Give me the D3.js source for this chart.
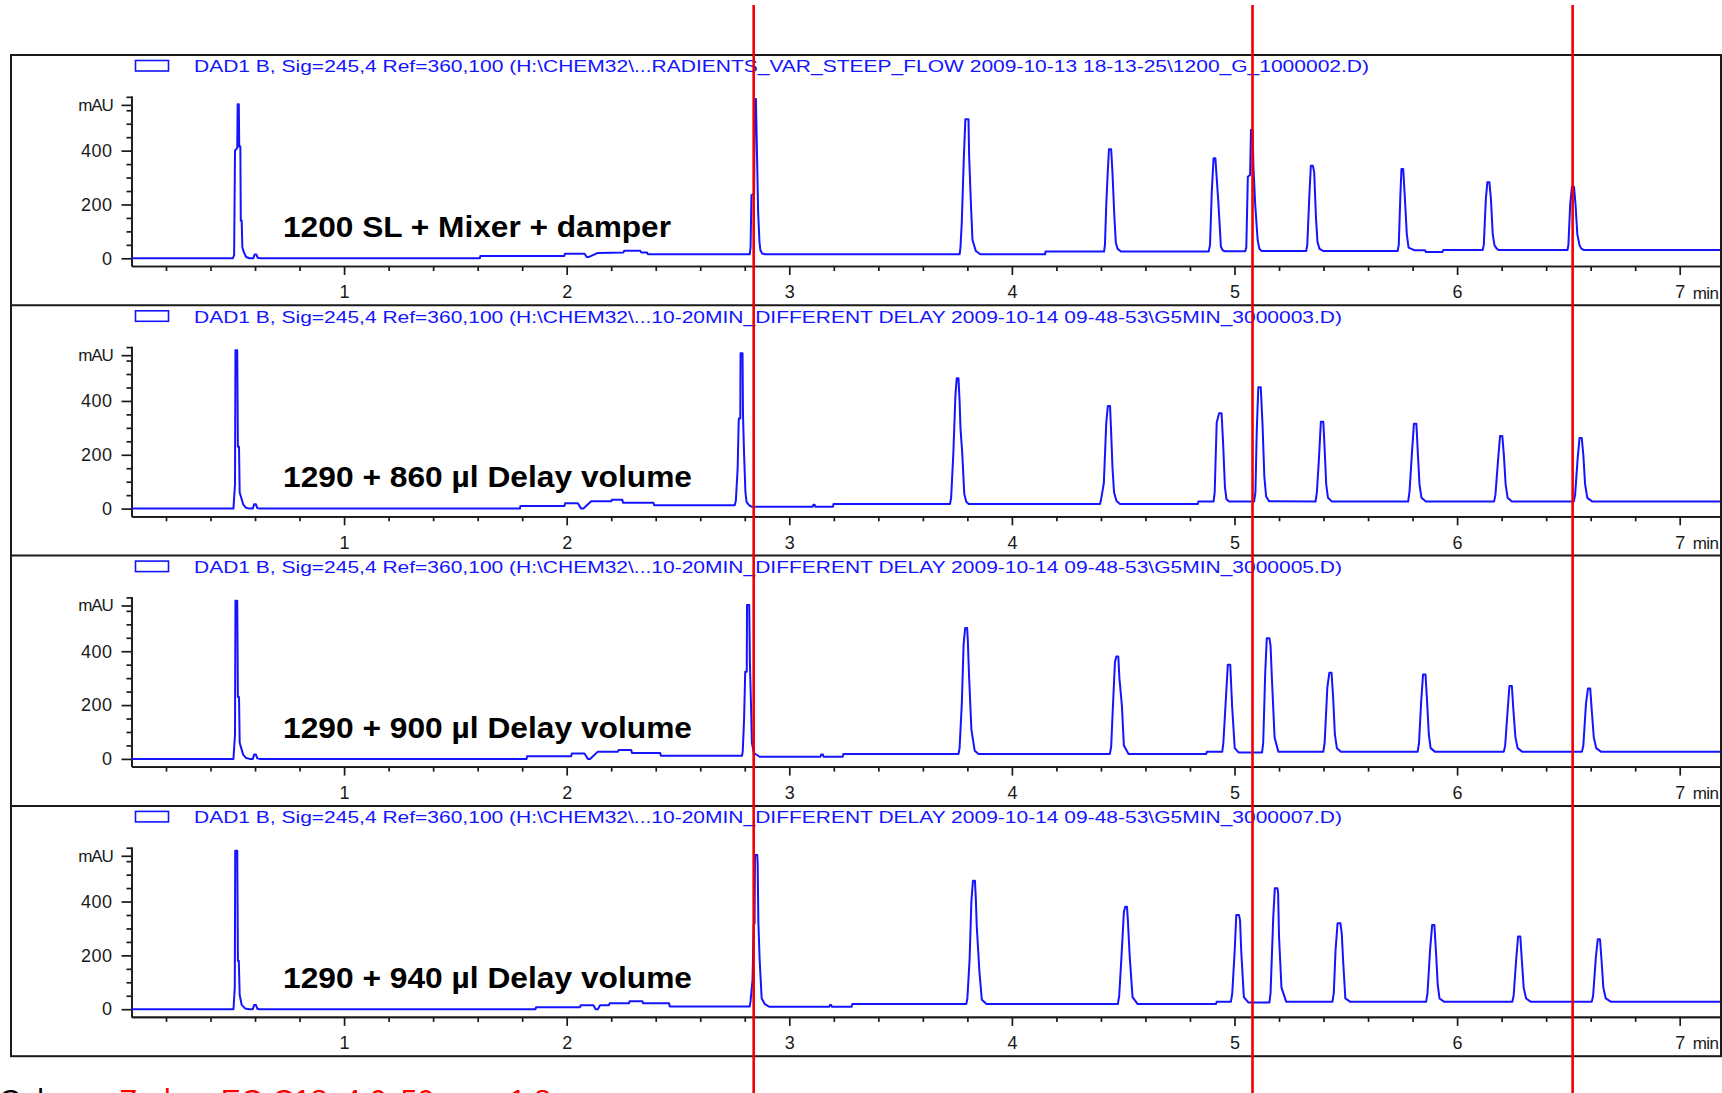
<!DOCTYPE html>
<html><head><meta charset="utf-8">
<script src="https://cdn.jsdelivr.net/npm/d3@7"></script>
<style>html,body{margin:0;padding:0;background:#fff;overflow:hidden}</style>
</head><body>
<svg id="c" width="1722" height="1093" xmlns="http://www.w3.org/2000/svg"></svg>
<script>
// ---------- data ----------
const legendLabels = [
  "DAD1 B, Sig=245,4 Ref=360,100 (H:\\CHEM32\\...RADIENTS_VAR_STEEP_FLOW 2009-10-13 18-13-25\\1200_G_1000002.D)",
  "DAD1 B, Sig=245,4 Ref=360,100 (H:\\CHEM32\\...10-20MIN_DIFFERENT DELAY 2009-10-14 09-48-53\\G5MIN_3000003.D)",
  "DAD1 B, Sig=245,4 Ref=360,100 (H:\\CHEM32\\...10-20MIN_DIFFERENT DELAY 2009-10-14 09-48-53\\G5MIN_3000005.D)",
  "DAD1 B, Sig=245,4 Ref=360,100 (H:\\CHEM32\\...10-20MIN_DIFFERENT DELAY 2009-10-14 09-48-53\\G5MIN_3000007.D)"
];
const panelTitles = [
  "1200 SL + Mixer + damper",
  "1290 + 860 µl Delay volume",
  "1290 + 900 µl Delay volume",
  "1290 + 940 µl Delay volume"
];
const xMajorTicks = [1, 2, 3, 4, 5, 6, 7];
const xMinorTicks = [0.2,0.4,0.6,0.8,1.2,1.4,1.6,1.8,2.2,2.4,2.6,2.8,3.2,3.4,3.6,3.8,
                     4.2,4.4,4.6,4.8,5.2,5.4,5.6,5.8,6.2,6.4,6.6,6.8];
const xUnitLabel = "min";
const yMajorTicks = [0, 200, 400];
const yMinorTicks = [50, 100, 150, 250, 300, 350, 450, 500, 550, 600];
const yUnitTick = 570;
const yUnitLabel = "mAU";
const xDomain = [0.045, 7.19];
const yDomain = [-28.6, 603];
const markerTimes = [2.84, 5.081, 6.519];
const footerLabel = "Column: ";
const footerColumn = "Zorbax EC-C18, 4.6x50 mm, 1.8 µm";

// trace points: [time (min), signal (mAU)]
const trace1 = [
 [0.045,0],[0.500,0],[0.506,12],[0.510,400],[0.520,410],[0.522,572],[0.527,572],[0.529,415],[0.534,415],[0.536,140],[0.540,140],[0.543,40],[0.550,22],[0.560,5],[0.575,0],[0.592,0],[0.598,14],[0.606,14],[0.612,2],[0.620,0],
 [1.610,0],[1.612,9],[1.990,9],[1.992,17],[2.080,17],[2.090,5],[2.100,5],[2.140,20],[2.255,22],[2.258,28],[2.330,28],[2.335,22],[2.360,22],[2.365,15],
 [2.822,15],[2.826,40],[2.830,235],[2.842,240],[2.845,592],[2.850,592],[2.853,470],[2.857,300],[2.860,173],[2.866,60],[2.870,31],[2.878,18],[2.890,15],
 [3.765,15],[3.769,40],[3.775,136],[3.784,372],[3.791,517],[3.805,517],[3.808,378],[3.816,200],[3.823,68],[3.838,27],[3.858,15],
 [4.149,15],[4.151,25],
 [4.414,25],[4.418,50],[4.424,200],[4.430,310],[4.436,405],[4.446,405],[4.452,316],[4.460,160],[4.467,57],[4.475,35],[4.490,25],
 [4.884,25],[4.890,50],[4.898,250],[4.906,372],[4.914,372],[4.920,300],[4.928,200],[4.939,43],[4.947,30],[4.957,26],
 [5.048,26],[5.053,40],[5.060,303],[5.070,310],[5.074,478],[5.081,478],[5.085,340],[5.093,200],[5.104,68],[5.112,35],[5.122,27],
 [5.322,27],[5.327,50],[5.336,229],[5.343,344],[5.352,344],[5.358,320],[5.366,150],[5.373,60],[5.382,35],[5.400,27],
 [5.733,27],[5.738,50],[5.745,230],[5.750,332],[5.758,332],[5.765,230],[5.774,90],[5.782,40],[5.800,33],[5.808,30],
 [5.856,30],[5.860,23],[5.934,23],[5.938,31],
 [6.115,31],[6.120,50],[6.129,220],[6.136,283],[6.145,283],[6.152,220],[6.160,90],[6.168,48],[6.178,36],[6.186,31],
 [6.496,31],[6.500,50],[6.508,200],[6.516,266],[6.525,266],[6.532,200],[6.540,90],[6.550,48],[6.558,36],[6.568,31],
 [7.190,31]
];
const trace2 = [
 [0.045,0],[0.503,0],[0.506,40],[0.510,90],[0.512,588],[0.520,588],[0.523,230],[0.528,230],[0.531,60],[0.538,40],[0.547,15],[0.560,3],[0.575,0],[0.590,0],[0.596,16],[0.604,16],[0.610,2],[0.620,0],
 [1.790,0],[1.792,10],[1.990,10],[1.993,20],[2.050,20],[2.065,0],[2.075,0],[2.110,27],[2.200,27],[2.203,33],[2.250,33],[2.253,22],[2.390,22],[2.393,12],
 [2.755,12],[2.760,30],[2.768,150],[2.773,335],[2.780,335],[2.781,577],[2.790,577],[2.792,350],[2.797,200],[2.803,60],[2.808,25],[2.820,12],[2.830,7],
 [3.105,7],[3.108,14],[3.114,14],[3.117,7],
 [3.196,7],[3.199,17],
 [3.722,17],[3.727,40],[3.737,205],[3.746,416],[3.752,484],[3.760,484],[3.765,400],[3.769,300],[3.777,205],[3.786,55],[3.795,25],[3.806,17],
 [4.396,17],[4.402,40],[4.413,95],[4.424,320],[4.431,381],[4.441,381],[4.446,280],[4.452,150],[4.459,60],[4.470,28],[4.486,17],
 [4.835,17],[4.838,26],
 [4.906,26],[4.911,60],[4.920,320],[4.931,354],[4.942,354],[4.949,240],[4.957,80],[4.964,35],[4.976,26],
 [5.088,26],[5.094,60],[5.100,290],[5.107,451],[5.118,451],[5.126,310],[5.134,120],[5.142,45],[5.156,27],
 [5.364,26],[5.370,60],[5.379,180],[5.388,323],[5.399,323],[5.405,220],[5.412,90],[5.420,40],[5.438,26],
 [5.780,26],[5.786,60],[5.797,205],[5.806,315],[5.817,315],[5.824,200],[5.831,90],[5.840,40],[5.860,26],
 [6.166,26],[6.172,50],[6.184,180],[6.193,270],[6.203,270],[6.210,200],[6.218,90],[6.227,40],[6.246,26],
 [6.524,26],[6.530,50],[6.541,180],[6.550,262],[6.560,262],[6.567,200],[6.575,90],[6.585,40],[6.608,26],
 [7.190,26]
];
const trace3 = [
 [0.045,0],[0.503,0],[0.506,40],[0.510,90],[0.512,588],[0.520,588],[0.523,230],[0.528,230],[0.531,60],[0.538,40],[0.547,15],[0.560,3],[0.575,0],[0.590,0],[0.596,16],[0.604,16],[0.610,2],[0.620,0],
 [1.820,0],[1.822,10],[2.020,10],[2.023,20],[2.080,20],[2.095,0],[2.105,0],[2.140,27],[2.230,27],[2.233,33],[2.290,33],[2.293,22],[2.420,22],[2.423,12],
 [2.788,12],[2.791,30],[2.797,150],[2.802,324],[2.809,324],[2.810,572],[2.820,572],[2.823,360],[2.828,200],[2.832,60],[2.841,22],[2.867,8],
 [3.140,8],[3.143,16],[3.151,16],[3.154,8],
 [3.240,8],[3.243,18],
 [3.760,18],[3.765,40],[3.775,205],[3.783,425],[3.790,486],[3.799,486],[3.802,440],[3.807,320],[3.818,110],[3.833,30],[3.850,18],
 [4.440,18],[4.446,45],[4.453,180],[4.463,360],[4.469,380],[4.478,380],[4.483,300],[4.494,200],[4.503,50],[4.524,18],
 [4.873,18],[4.876,27],
 [4.945,27],[4.950,60],[4.960,205],[4.970,350],[4.981,350],[4.989,200],[5.001,40],[5.018,24],
 [5.124,24],[5.129,60],[5.138,320],[5.145,448],[5.157,448],[5.162,420],[5.168,300],[5.180,80],[5.197,27],
 [5.399,27],[5.405,60],[5.417,265],[5.426,320],[5.436,320],[5.443,230],[5.451,90],[5.460,40],[5.478,27],
 [5.823,27],[5.829,60],[5.838,205],[5.847,314],[5.858,314],[5.866,200],[5.873,90],[5.881,40],[5.900,27],
 [6.210,27],[6.216,50],[6.227,180],[6.235,271],[6.246,271],[6.253,180],[6.262,80],[6.272,40],[6.292,27],
 [6.561,27],[6.567,50],[6.579,205],[6.588,262],[6.598,262],[6.605,180],[6.614,80],[6.625,40],[6.646,27],
 [7.190,27]
];
const trace4 = [
 [0.045,0],[0.503,0],[0.506,40],[0.509,80],[0.511,589],[0.520,589],[0.523,180],[0.527,180],[0.531,53],[0.540,16],[0.555,3],[0.575,0],[0.590,0],[0.596,16],[0.604,16],[0.610,2],[0.620,0],
 [1.860,0],[1.862,7],[2.060,7],[2.063,15],[2.120,15],[2.130,0],[2.140,0],[2.150,15],[2.190,15],[2.193,22],[2.280,22],[2.283,30],[2.340,30],[2.343,22],[2.460,22],[2.463,10],
 [2.822,10],[2.826,30],[2.835,110],[2.840,310],[2.844,320],[2.846,573],[2.856,573],[2.858,540],[2.861,325],[2.867,180],[2.876,40],[2.890,19],[2.911,9],
 [3.180,9],[3.183,16],[3.188,16],[3.191,9],
 [3.280,9],[3.283,19],
 [3.795,19],[3.800,40],[3.810,185],[3.818,400],[3.825,477],[3.834,477],[3.838,410],[3.842,310],[3.854,140],[3.865,35],[3.886,19],
 [4.476,19],[4.482,50],[4.492,190],[4.503,360],[4.509,381],[4.517,381],[4.521,330],[4.529,200],[4.542,45],[4.565,19],
 [4.917,19],[4.920,28],
 [4.984,28],[4.990,60],[5.001,220],[5.008,350],[5.020,350],[5.025,330],[5.030,220],[5.042,45],[5.062,25],
 [5.157,25],[5.162,60],[5.174,340],[5.181,449],[5.193,449],[5.196,430],[5.200,270],[5.211,80],[5.232,28],
 [5.440,28],[5.446,60],[5.454,220],[5.463,319],[5.476,319],[5.482,280],[5.488,180],[5.498,40],[5.519,28],
 [5.861,28],[5.867,60],[5.879,225],[5.888,313],[5.898,313],[5.906,200],[5.913,90],[5.921,40],[5.941,28],
 [6.248,28],[6.254,50],[6.265,180],[6.274,270],[6.284,270],[6.291,180],[6.299,80],[6.310,40],[6.330,28],
 [6.605,28],[6.611,50],[6.623,190],[6.632,260],[6.642,260],[6.649,180],[6.657,80],[6.668,40],[6.690,28],
 [7.190,28]
];
const traces = [trace1, trace2, trace3, trace4];

// ---------- layout ----------
const svg = d3.select("#c");
const frame = {left: 11, right: 1721, top: 55, panelH: 250.3};
const plotLeft = 131.5, plotRight = 1722;
const x = d3.scaleLinear().domain(xDomain).range([plotLeft, plotRight]);
const axisFont = "'Liberation Sans', Arial, sans-serif";
const blue = "#1414ff";
const ink = "#1a1a1a";

svg.append("defs").append("clipPath").attr("id", "plotclip")
  .append("rect").attr("x", plotLeft).attr("y", 0).attr("width", frame.right - plotLeft).attr("height", 1093);

traces.forEach((tr, i) => {
  const T = frame.top + i * frame.panelH;
  const y = d3.scaleLinear().domain(yDomain).range([T + 211, T + 41]);
  const g = svg.append("g");

  // legend
  g.append("rect").attr("x", 135.5).attr("y", T + 5.5).attr("width", 33).attr("height", 10.5)
    .attr("fill", "none").attr("stroke", blue).attr("stroke-width", 1.6);
  g.append("text").attr("x", 194).attr("y", T + 17.3)
    .attr("font-family", axisFont).attr("font-size", 17).attr("fill", blue)
    .attr("textLength", i === 0 ? 1175 : 1148).attr("lengthAdjust", "spacingAndGlyphs")
    .text(legendLabels[i]);

  // x axis minor / major
  const xa = y(yDomain[0]);
  const gxMinor = g.append("g").attr("transform", `translate(0,${xa})`)
    .call(d3.axisBottom(x).tickValues(xMinorTicks).tickSize(5).tickSizeOuter(0).tickFormat(""));
  const gxMajor = g.append("g").attr("transform", `translate(0,${xa})`)
    .call(d3.axisBottom(x).tickValues(xMajorTicks).tickSize(9).tickSizeOuter(0).tickPadding(10.5));
  [gxMinor, gxMajor].forEach(ax => {
    ax.select(".domain").attr("stroke", ink).attr("stroke-width", 1.7);
    ax.selectAll(".tick line").attr("stroke", ink).attr("stroke-width", 1.7);
    ax.selectAll("text").attr("font-family", axisFont).attr("font-size", 18).attr("fill", ink);
  });
  g.append("text").attr("x", x(xMajorTicks[xMajorTicks.length - 1]) + 13).attr("y", xa + 32.5)
    .attr("font-family", axisFont).attr("font-size", 17).attr("letter-spacing", -0.6)
    .attr("fill", ink).text(xUnitLabel);

  // y axis
  const gyMinor = g.append("g").attr("transform", `translate(${plotLeft},0)`)
    .call(d3.axisLeft(y).tickValues(yMinorTicks).tickSize(5).tickSizeOuter(0).tickFormat(""));
  const gyMajor = g.append("g").attr("transform", `translate(${plotLeft},0)`)
    .call(d3.axisLeft(y).tickValues(yMajorTicks.concat([yUnitTick])).tickSize(10).tickSizeOuter(0)
      .tickPadding(9).tickFormat(d => d === yUnitTick ? yUnitLabel : d));
  [gyMinor, gyMajor].forEach(ax => {
    ax.select(".domain").attr("stroke", ink).attr("stroke-width", 1.7);
    ax.selectAll(".tick line").attr("stroke", ink).attr("stroke-width", 1.7);
    ax.selectAll("text").attr("font-family", axisFont).attr("font-size", 18).attr("fill", ink)
      .attr("letter-spacing", 0.5);
  });
  gyMajor.selectAll("text").filter(d => d === yUnitTick)
    .attr("letter-spacing", -1.2).attr("font-size", 17);

  // trace
  g.append("path").datum(tr)
    .attr("clip-path", "url(#plotclip)")
    .attr("fill", "none").attr("stroke", blue).attr("stroke-width", 2)
    .attr("stroke-linejoin", "round")
    .attr("d", d3.line().x(d => x(d[0])).y(d => y(d[1])));

  // title
  g.append("text").attr("x", 283).attr("y", T + 182)
    .attr("font-family", axisFont).attr("font-weight", "bold").attr("font-size", 30).attr("fill", "#000")
    .attr("textLength", i === 0 ? 388 : 409).attr("lengthAdjust", "spacingAndGlyphs")
    .text(panelTitles[i]);

  // separator
  if (i > 0) {
    svg.append("line").attr("x1", frame.left).attr("x2", frame.right).attr("y1", T).attr("y2", T)
      .attr("stroke", ink).attr("stroke-width", 2);
  }
});

// frame
svg.append("rect").attr("x", frame.left).attr("y", frame.top)
  .attr("width", frame.right - frame.left).attr("height", frame.panelH * traces.length)
  .attr("fill", "none").attr("stroke", ink).attr("stroke-width", 2);

// footer (cut by the bottom edge, as in the reference)
const ft = svg.append("text").attr("x", -1).attr("y", 1110)
  .attr("font-family", axisFont).attr("font-size", 30);
ft.append("tspan").attr("fill", "#000").text(footerLabel);
ft.append("tspan").attr("fill", "#ff0000").text(footerColumn);

// red marker lines
svg.selectAll("line.marker").data(markerTimes).enter().append("line")
  .attr("class", "marker")
  .attr("x1", d => x(d)).attr("x2", d => x(d))
  .attr("y1", 5).attr("y2", 1093)
  .attr("stroke", "#f00000").attr("stroke-width", 2.6);
</script>
</body></html>
